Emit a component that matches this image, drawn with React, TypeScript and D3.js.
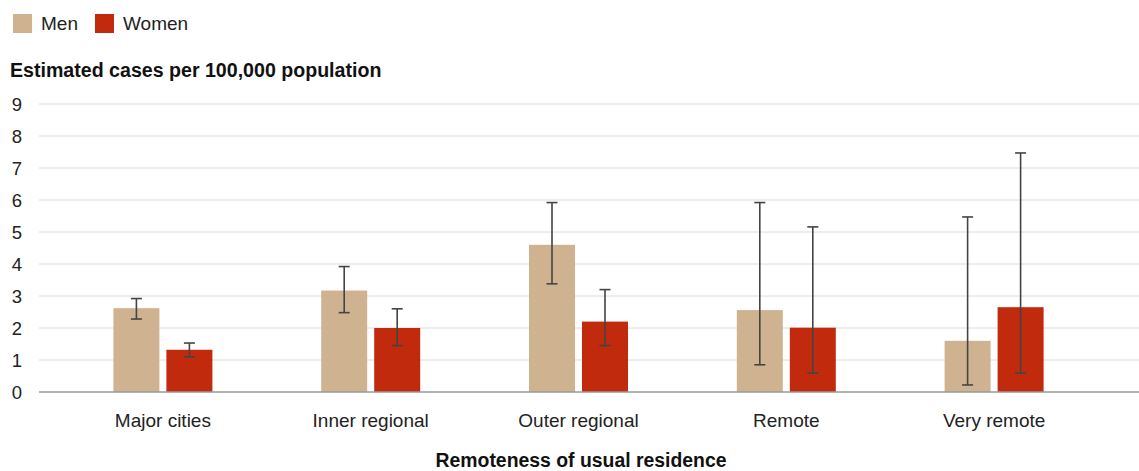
import React, { useEffect, useRef } from "react";
import * as d3 from "d3";

const categories = ["Major cities", "Inner regional", "Outer regional", "Remote", "Very remote"];
const seriesNames = ["Men", "Women"];
const menValues = [2.62, 3.17, 4.6, 2.56, 1.6];
const menLow = [2.28, 2.48, 3.38, 0.85, 0.22];
const menHigh = [2.92, 3.92, 5.92, 5.92, 5.47];
const womenValues = [1.32, 2.0, 2.2, 2.01, 2.65];
const womenLow = [1.1, 1.45, 1.45, 0.59, 0.59];
const womenHigh = [1.53, 2.6, 3.2, 5.16, 7.47];
const yTicks = [0, 1, 2, 3, 4, 5, 6, 7, 8, 9];

const colors: Record<string, string> = { Men: "#cfb390", Women: "#c22a0d" };
const FONT = "'Liberation Sans', Arial, Helvetica, sans-serif";

const App: React.FC = () => {
  const ref = useRef<SVGSVGElement>(null);

  useEffect(() => {
    const svg = d3.select(ref.current);
    svg.selectAll("*").remove();

    const width = 1139;
    const height = 471;
    svg.attr("width", width).attr("height", height);

    const rows = categories.map((c, i) => ({
      category: c,
      bars: [
        { name: "Men", value: menValues[i], low: menLow[i], high: menHigh[i] },
        { name: "Women", value: womenValues[i], low: womenLow[i], high: womenHigh[i] },
      ],
    }));

    const x0 = d3.scaleBand().domain(categories).range([59, 1098]).padding(0);
    const x1 = d3
      .scaleBand()
      .domain(seriesNames)
      .range([x0.bandwidth() / 2 - 49.5, x0.bandwidth() / 2 + 49.5])
      .paddingInner(0.132);
    const y = d3.scaleLinear().domain([0, 9]).range([392, 104]);

    // legend
    const legend = svg.append("g").attr("font-family", FONT).attr("font-size", 19);
    const legendX = [13, 95];
    seriesNames.forEach((name, i) => {
      legend
        .append("rect")
        .attr("x", legendX[i])
        .attr("y", 14)
        .attr("width", 19)
        .attr("height", 19)
        .attr("fill", colors[name]);
      legend
        .append("text")
        .attr("x", legendX[i] + 28)
        .attr("y", 30)
        .attr("fill", "#222")
        .text(name);
    });

    // y title
    svg
      .append("text")
      .attr("x", 10)
      .attr("y", 77)
      .attr("font-family", FONT)
      .attr("font-size", 19.6)
      .attr("font-weight", "bold")
      .attr("fill", "#111")
      .text("Estimated cases per 100,000 population");

    // grid + y labels
    svg
      .append("g")
      .selectAll("line")
      .data(yTicks.filter((d) => d > 0))
      .enter()
      .append("line")
      .attr("x1", 39)
      .attr("x2", 1139)
      .attr("y1", (d) => y(d))
      .attr("y2", (d) => y(d))
      .attr("stroke", "#dcdcdc")
      .attr("stroke-width", 1);

    svg
      .append("g")
      .selectAll("text")
      .data(yTicks)
      .enter()
      .append("text")
      .attr("x", 17)
      .attr("y", (d) => y(d) + 6.5)
      .attr("text-anchor", "middle")
      .attr("font-family", FONT)
      .attr("font-size", 18.5)
      .attr("fill", "#222")
      .text((d) => d);

    // bars
    const groups = svg
      .append("g")
      .selectAll("g")
      .data(rows)
      .enter()
      .append("g")
      .attr("transform", (d) => `translate(${x0(d.category)},0)`);

    groups
      .selectAll("rect")
      .data((d) => d.bars)
      .enter()
      .append("rect")
      .attr("x", (d) => x1(d.name)!)
      .attr("y", (d) => y(d.value))
      .attr("width", x1.bandwidth())
      .attr("height", (d) => y(0) - y(d.value))
      .attr("fill", (d) => colors[d.name]);

    // baseline
    svg
      .append("line")
      .attr("x1", 39)
      .attr("x2", 1139)
      .attr("y1", y(0))
      .attr("y2", y(0))
      .attr("stroke", "#9a9a9a")
      .attr("stroke-width", 1.5);

    // error bars
    const cap = 5.5;
    const err = groups
      .selectAll("g.err")
      .data((d) => d.bars)
      .enter()
      .append("g")
      .attr("class", "err")
      .attr("stroke", "#444")
      .attr("stroke-width", 1.6);
    const cx = (d: { name: string }) => x1(d.name)! + x1.bandwidth() / 2;
    err
      .append("line")
      .attr("x1", cx)
      .attr("x2", cx)
      .attr("y1", (d) => y(d.low))
      .attr("y2", (d) => y(d.high));
    err
      .append("line")
      .attr("x1", (d) => cx(d) - cap)
      .attr("x2", (d) => cx(d) + cap)
      .attr("y1", (d) => y(d.high))
      .attr("y2", (d) => y(d.high));
    err
      .append("line")
      .attr("x1", (d) => cx(d) - cap)
      .attr("x2", (d) => cx(d) + cap)
      .attr("y1", (d) => y(d.low))
      .attr("y2", (d) => y(d.low));

    // x labels
    svg
      .append("g")
      .selectAll("text")
      .data(categories)
      .enter()
      .append("text")
      .attr("x", (d) => x0(d)! + x0.bandwidth() / 2)
      .attr("y", 427)
      .attr("text-anchor", "middle")
      .attr("font-family", FONT)
      .attr("font-size", 19)
      .attr("fill", "#222")
      .text((d) => d);

    svg
      .append("text")
      .attr("x", 581)
      .attr("y", 467)
      .attr("text-anchor", "middle")
      .attr("font-family", FONT)
      .attr("font-size", 19.4)
      .attr("font-weight", "bold")
      .attr("fill", "#111")
      .text("Remoteness of usual residence");
  }, []);

  return (
    <div style={{ position: "absolute", left: 0, top: 0, background: "#fff" }}>
      <svg ref={ref} style={{ display: "block" }} />
    </div>
  );
};

export default App;
